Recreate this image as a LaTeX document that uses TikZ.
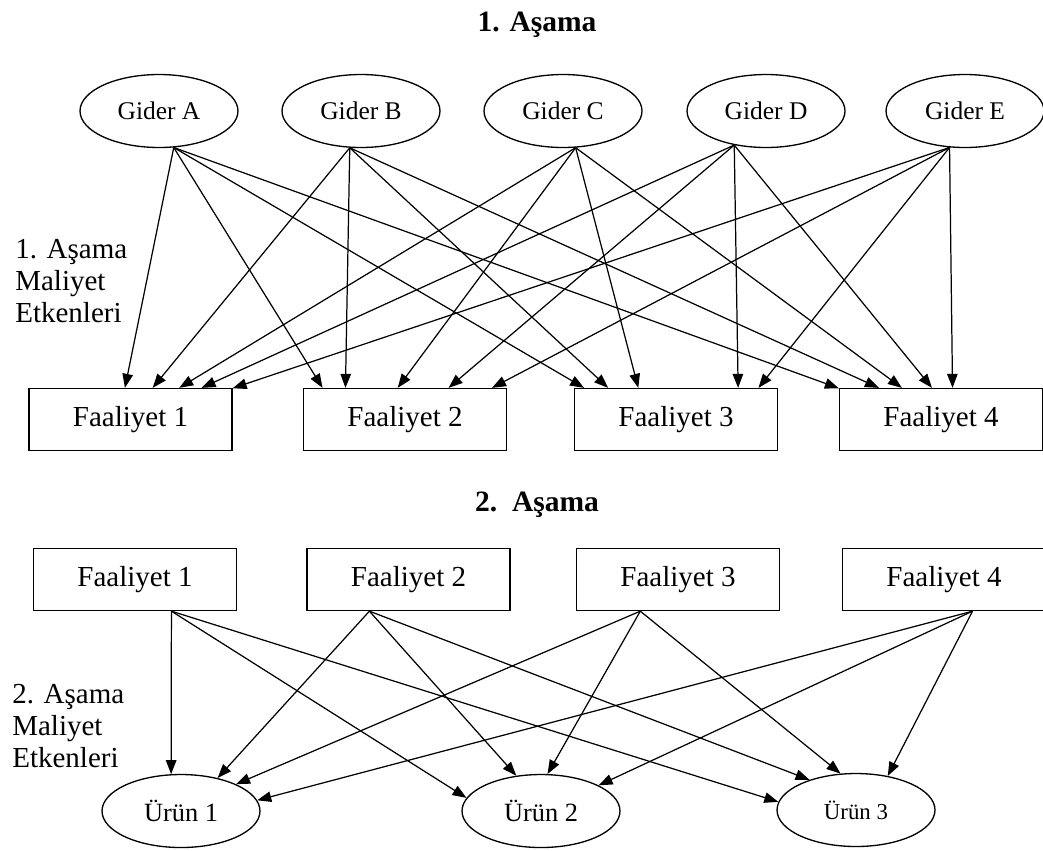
\documentclass[tikz,border=0pt]{standalone}
\usepackage{fontspec}
\setmainfont{Liberation Serif}
\usetikzlibrary{shapes.geometric,arrows.meta}

\tikzset{
  gider/.style={draw, ellipse, line width=0.75pt, minimum width=3.16cm, minimum height=1.46cm, inner sep=0pt, font=\fontsize{14.5}{16}\selectfont},
  faaliyet/.style={draw, rectangle, line width=0.75pt, minimum width=4.06cm, minimum height=1.24cm, inner sep=0pt, font=\fontsize{16.5}{19}\selectfont},
  urun/.style={gider, font=\fontsize{15}{17}\selectfont},
  ok/.style={-{Triangle[length=2.8mm,width=2.1mm]}, line width=0.7pt},
  baslik/.style={font=\fontsize{16.8}{20}\selectfont\bfseries},
  etken/.style={align=left, anchor=west, inner sep=0pt, font=\fontsize{16.5}{18}\selectfont}
}

\begin{document}
\begin{tikzpicture}[x=0.02cm, y=-0.02cm]
\useasboundingbox (0,0) rectangle (1043,850);

%1. asama: giderler -> faaliyetler
\node[baslik] (b1) at (537,25) {1. Aşama};
\node[gider] (gA) at (159,111) {Gider A};
\node[gider] (gB) at (361,111) {Gider B};
\node[gider] (gC) at (563,111) {Gider C};
\node[gider] (gD) at (766,111) {Gider D};
\node[gider] (gE) at (965,111) {Gider E};
\node[etken] (e1) at (15,281) {1. Aşama\\Maliyet\\Etkenleri};

\node[faaliyet] (fa1) at (130.5,419.5) {Faaliyet 1};
\node[faaliyet] (fa2) at (405,419.5) {Faaliyet 2};
\node[faaliyet] (fa3) at (676,419.5) {Faaliyet 3};
\node[faaliyet] (fa4) at (941,419.5) {Faaliyet 4};

\foreach \s/\t in {gA.292/fa1.100, gA.292/fa2.159, gA.292/fa3.161, gA.292/fa4.163,
                   gB.253/fa1.55, gB.253/fa2.152, gB.253/fa3.155, gB.253/fa4.153,
                   gC.289/fa1.33, gC.289/fa2.103, gC.289/fa3.140, gC.289/fa4.141,
                   gD.227/fa1.24, gD.227/fa2.36, gD.227/fa3.27, gD.227/fa4.106,
                   gE.247/fa1.17, gE.247/fa2.20, gE.247/fa3.21, gE.247/fa4.70}
  \draw[ok] (\s) -- (\t);

%2. asama: faaliyetler -> urunler
\node[baslik] (b2) at (537,505) {2.~\ Aşama};
\node[faaliyet] (fb1) at (135,579.5) {Faaliyet 1};
\node[faaliyet] (fb2) at (408.5,579.5) {Faaliyet 2};
\node[faaliyet] (fb3) at (678,579.5) {Faaliyet 3};
\node[faaliyet] (fb4) at (944,579.5) {Faaliyet 4};
\node[etken] (e2) at (12,726) {2. Aşama\\Maliyet\\Etkenleri};

\node[urun] (u1) at (181,811) {Ürün 1};
\node[urun] (u2) at (541,811) {Ürün 2};
\node[urun, font=\fontsize{13}{15}\selectfont] (u3) at (856,810) {Ürün 3};

\foreach \s/\t in {fb1.319/u1.105, fb1.319/u2.170, fb1.319/u3.174,
                   fb2.219/u1.42, fb2.219/u2.125, fb2.219/u3.147,
                   fb3.220/u1.26, fb3.220/u2.80, fb3.220/u3.113,
                   fb4.312/u1.8, fb4.312/u2.24, fb4.312/u3.47}
  \draw[ok] (\s) -- (\t);
\end{tikzpicture}
\end{document}
